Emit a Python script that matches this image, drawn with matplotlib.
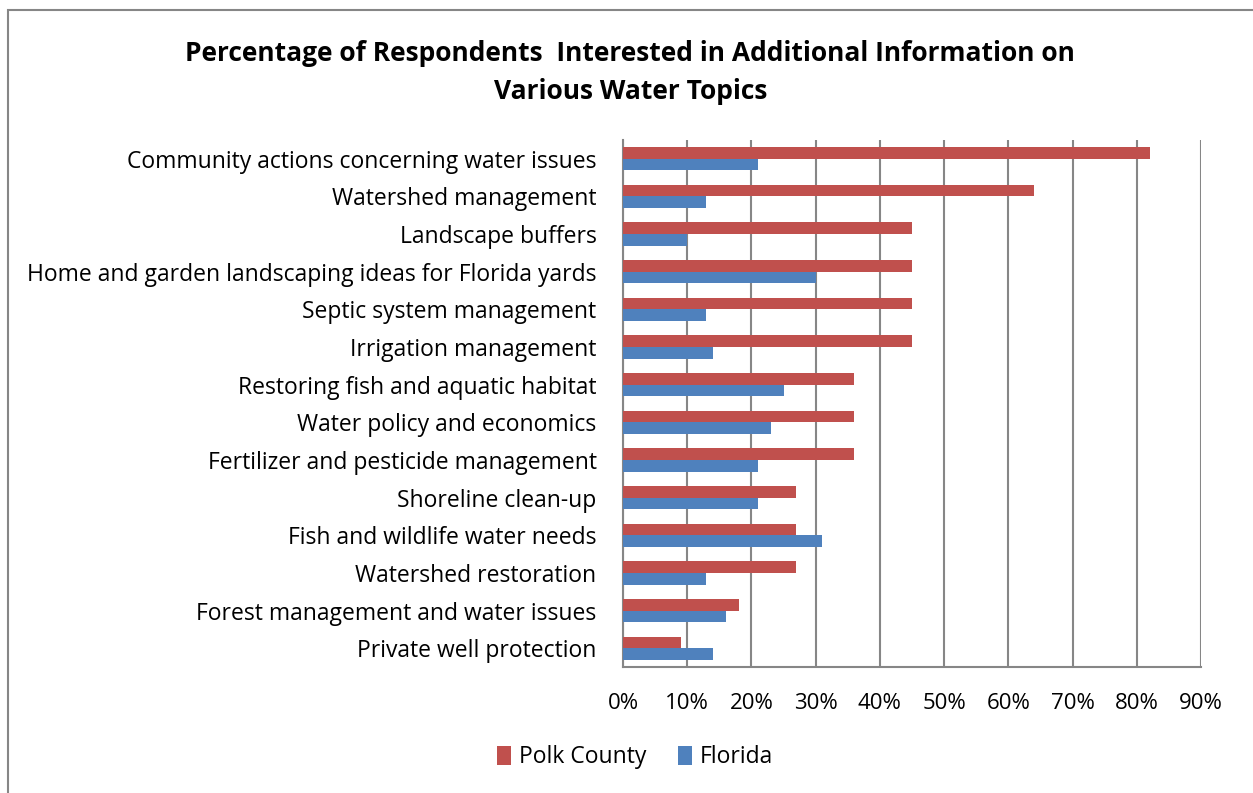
import numpy as np
import matplotlib.pyplot as plt
from matplotlib.patches import Rectangle

plt.rcParams['font.family'] = ['Open Sans', 'DejaVu Sans']

# Темы (сверху вниз) и доли ответивших, %
topics = [
    'Community actions concerning water issues',
    'Watershed management',
    'Landscape buffers',
    'Home and garden landscaping ideas for Florida yards',
    'Septic system management',
    'Irrigation management',
    'Restoring fish and aquatic habitat',
    'Water policy and economics',
    'Fertilizer and pesticide management',
    'Shoreline clean-up',
    'Fish and wildlife water needs',
    'Watershed restoration',
    'Forest management and water issues',
    'Private well protection',
]
polk = [82, 64, 45, 45, 45, 45, 36, 36, 36, 27, 27, 27, 18, 9]
florida = [21, 13, 10, 30, 13, 14, 25, 23, 21, 21, 31, 13, 16, 14]

red = '#C0504D'
blue = '#4F81BD'
grid_c = '#868686'

fig = plt.figure(figsize=(12.53, 7.93), dpi=100)
ax = fig.add_axes([623/1253, 1 - 667/793, (1201 - 623)/1253, (667 - 140)/793])

y = np.arange(len(topics))
h = 0.31
ax.barh(y - h/2, polk, height=h, color=red, label='Polk County', zorder=3)
ax.barh(y + h/2, florida, height=h, color=blue, label='Florida', zorder=3)

ax.set_ylim(len(topics) - 0.5, -0.5)
ax.set_xlim(0, 90)
ax.set_xticks(np.arange(0, 91, 10))
ax.set_xticklabels([f'{v}%' for v in range(0, 91, 10)], fontsize=16)
ax.set_yticks(y)
ax.set_yticklabels(topics, fontsize=16.5)
ax.tick_params(axis='y', length=0, pad=19)
ax.tick_params(axis='x', length=0, pad=19)

ax.grid(axis='x', color=grid_c, linewidth=1.5, zorder=0)
for s in ['top', 'right']:
    ax.spines[s].set_visible(False)
for s in ['left', 'bottom']:
    ax.spines[s].set_color(grid_c)
    ax.spines[s].set_linewidth(1.5)

fig.text(0.503, 0.933, 'Percentage of Respondents  Interested in Additional Information on',
         ha='center', va='center', fontsize=19, fontweight='bold')
fig.text(0.503, 0.885, 'Various Water Topics',
         ha='center', va='center', fontsize=19, fontweight='bold')

fig.legend(loc='center', bbox_to_anchor=(0.507, 0.045), ncol=2, frameon=False,
           fontsize=16.5, handlelength=0.6, handleheight=0.85, columnspacing=1.4,
           handletextpad=0.35)

# рамка вокруг диаграммы
fig.patches.append(Rectangle((8/1253, -0.05), 1.1, 1 - 10/793 + 0.05,
                             transform=fig.transFigure, fill=False,
                             edgecolor=grid_c, linewidth=1.5))

fig.savefig('out.png', dpi=100)
